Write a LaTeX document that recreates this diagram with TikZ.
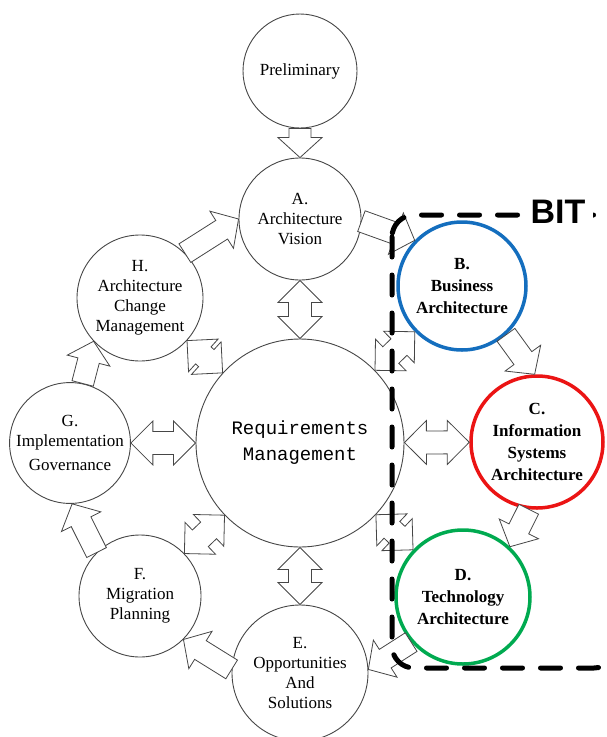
\documentclass[tikz,border=0pt]{standalone}
\usepackage{fontspec}
\setmainfont{Liberation Serif}
\setmonofont{Liberation Mono}
\newfontfamily\bitfont{Liberation Sans}
\usetikzlibrary{calc}

\definecolor{linegray}{RGB}{70,70,70}
\definecolor{bblue}{RGB}{20,110,190}
\definecolor{cred}{RGB}{235,20,20}
\definecolor{dgreen}{RGB}{0,170,80}

% single block arrow from #1 to #2
\newcommand{\onearrow}[2]{%
  \path (#1) -- (#2) coordinate[pos=0] (s) coordinate[pos=1] (e);
  \coordinate (h) at ($(e)!20pt!(s)$);
  \draw[blockarrow] ($(s)!11pt!90:(e)$) -- ($(h)!11pt!90:(e)$)
    -- ($(h)!22pt!90:(e)$) -- (e) -- ($(h)!22pt!-90:(e)$)
    -- ($(h)!11pt!-90:(e)$) -- ($(s)!11pt!-90:(e)$) -- cycle;
}
% double block arrow between #1 and #2
\newcommand{\twoarrow}[2]{%
  \path (#1) -- (#2) coordinate[pos=0] (s) coordinate[pos=1] (e);
  \coordinate (h1) at ($(s)!22pt!(e)$);
  \coordinate (h2) at ($(e)!22pt!(s)$);
  \draw[blockarrow] (s) -- ($(h1)!22pt!90:(e)$) -- ($(h1)!11.5pt!90:(e)$)
    -- ($(h2)!11.5pt!90:(e)$) -- ($(h2)!22pt!90:(e)$) -- (e)
    -- ($(h2)!22pt!-90:(e)$) -- ($(h2)!11.5pt!-90:(e)$)
    -- ($(h1)!11.5pt!-90:(e)$) -- ($(h1)!22pt!-90:(e)$) -- cycle;
}

\begin{document}
\begin{tikzpicture}[x=1pt, y=-1pt,
    stage/.style={circle, draw=linegray, line width=0.9pt, inner sep=0pt,
      align=center, font=\fontsize{17}{20}\selectfont},
    bitstage/.style={stage, line width=3.5pt,
      font=\bfseries\fontsize{17}{22}\selectfont},
    blockarrow/.style={draw=linegray, line width=0.8pt, fill=white,
      line join=miter}]
  \useasboundingbox (0,0) rectangle (606,737);
  % draw stages
  \node[stage, minimum size=114pt] (pre) at (300,71) {Preliminary};
  \node[stage, minimum size=122pt] (A) at (300,219) {A.\\Architecture\\Vision};
  \node[stage, minimum size=208pt, font=\ttfamily\fontsize{19}{26}\selectfont]
        (req) at (300,443) {Requirements\\Management};
  \node[bitstage, draw=bblue, minimum size=128pt] (B) at (462,286)
        {B.\\Business\\Architecture};
  \node[bitstage, draw=cred, minimum size=132pt] (C) at (537,442)
        {C.\\Information\\Systems\\Architecture};
  \node[bitstage, draw=dgreen, minimum size=134pt] (D) at (463,597)
        {D.\\Technology\\Architecture};
  \node[stage, minimum size=136pt] (E) at (300,673)
        {E.\\Opportunities\\And\\Solutions};
  \node[stage, minimum size=122pt] (F) at (140,596) {F.\\Migration\\Planning};
  \node[stage, minimum size=120pt] (G) at (70,443)
        {G.\\Implementation\\[4pt]Governance};
  \node[stage, minimum size=126pt] (H) at (140,298)
        {H.\\Architecture\\Change\\Management};
  % draw cycle arrows
  \onearrow{pre}{A}
  \onearrow{A.-2}{B.136}
  \onearrow{B.-48}{C.92}
  \onearrow{C.-97}{D.47}
  \onearrow{D.-139}{E.3}
  \onearrow{E.177}{F.-45}
  \onearrow{F.135}{G.-88}
  \onearrow{G.78}{H.-137}
  \onearrow{H.45}{A.180}
  % draw requirement arrows
  \foreach \st in {A,B,C,D,E,F,G,H}
    \twoarrow{req}{\st};
  % draw BIT box
  \draw[line width=5pt, dash pattern=on 20pt off 18pt, line cap=round,
        rounded corners=22pt] (392,215) rectangle (616,668);
  \node[font=\bitfont\bfseries\fontsize{34}{34}\selectfont, fill=white,
        inner xsep=8pt, inner ysep=2pt, anchor=base] (bit) at (558,223) {BIT};
\end{tikzpicture}
\end{document}
